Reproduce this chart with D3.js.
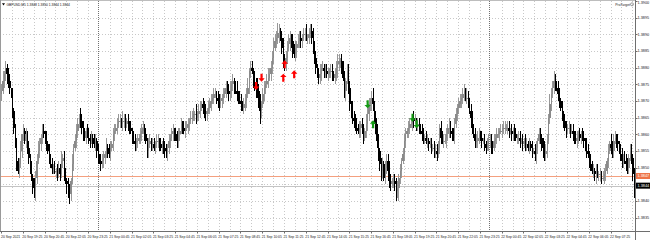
<!DOCTYPE html>
<html>
<head>
<meta charset="utf-8">
<script src="https://cdn.jsdelivr.net/npm/d3@7"></script>
<style>
  body { margin: 0; background: #fff; }
  text { font-family: "Liberation Sans", Arial, sans-serif; }
</style>
</head>
<body>
<div id="grafico"></div>
<script>
// Fechamentos M5 em pips acima de 1.3800
const precoBase = 1.38;
const aberturaInicial = 72;
const fechamentos = [
  73, 76, 78, 80, 78, 76, 74, 72, 67, 62,
  57, 52, 49, 51, 55, 60, 61, 58, 60, 56,
  53, 50, 47, 44, 43, 47, 52, 55, 57, 59,
  61, 60, 59, 57, 55, 53, 51, 50, 50, 49,
  49, 48, 50, 48, 52, 53, 48, 46, 45, 43,
  42, 46, 51, 56, 58, 61, 63, 65, 64, 62,
  60, 59, 61, 60, 59, 58, 59, 58, 57, 58,
  55, 53, 52, 51, 52, 53, 54, 56, 55, 54,
  56, 57, 60, 61, 62, 63, 64, 64, 63, 64,
  64, 63, 64, 63, 62, 61, 59, 58, 57, 58,
  58, 59, 60, 61, 62, 60, 58, 55, 57, 58,
  57, 57, 56, 57, 58, 58, 57, 56, 57, 56,
  55, 54, 56, 58, 59, 60, 61, 60, 59, 58,
  60, 61, 63, 62, 61, 62, 62, 63, 64, 65,
  65, 66, 66, 65, 66, 67, 68, 69, 68, 67,
  66, 67, 68, 69, 70, 71, 72, 72, 71, 70,
  69, 70, 71, 72, 73, 74, 73, 72, 73, 75,
  76, 74, 73, 72, 71, 70, 69, 68, 69, 70,
  72, 74, 79, 80, 79, 77, 75, 74, 73, 70,
  67, 69, 72, 74, 75, 76, 77, 78, 80, 83,
  86, 88, 89, 90.5, 91, 89, 86, 83, 81, 83,
  86, 87, 89, 88, 85, 84, 86, 87, 88, 89,
  88, 89, 90, 90, 89, 89, 90, 91, 89, 86,
  83, 80, 78, 77, 78, 80, 80, 79, 79, 78,
  78, 79, 79, 78, 77, 78, 80, 81, 82, 82,
  80, 77, 73, 76, 79, 74, 69, 67, 65, 64,
  63, 62, 61, 62, 63, 61, 59, 61, 63, 66,
  69, 70, 71, 69, 65, 61, 58, 55, 51, 49,
  51, 47, 50, 52, 49, 46, 45, 46, 46, 45,
  43, 44, 47, 49, 52, 54, 58, 60, 61, 62,
  63, 63, 65, 64, 64, 63, 63, 62, 61, 60,
  59, 59, 58, 58, 57, 57, 56, 56, 55, 55,
  54, 56, 62, 59, 58, 58, 59, 60, 62, 62,
  61, 60, 59, 63, 66, 68, 69, 70, 71, 72,
  73, 71, 71, 70, 67, 65, 62, 60, 58, 58,
  59, 60, 59, 58, 58, 57, 56, 57, 58, 58,
  57, 56, 58, 59, 60, 60, 61, 61, 62, 62,
  62, 62, 62, 61, 61, 60, 61, 60, 59, 59,
  59, 58, 58, 57, 58, 57, 57, 56, 57, 56,
  55, 55, 54, 56, 58, 60, 59, 57, 56, 54,
  55, 58, 65, 69, 72, 74, 76, 75, 74, 72,
  70, 68, 66, 64, 62, 61, 62, 62, 61, 61,
  60, 59, 58, 59, 60, 59, 60, 59, 58, 57,
  55, 54, 52, 51, 49, 49, 48, 49, 48, 48,
  48, 47, 47, 48, 49, 52, 55, 57, 56, 55,
  58, 59, 58, 57, 55, 54, 52, 53, 52, 51,
  50, 53, 55, 53, 48, 44
];

// Pavios (pips) acima e abaixo do corpo de cada candle
const pavioSuperior = (
  "2312122021 1212302121 2121322321 2212121212 1221312212 2131222132 2212212122 1212221312 " +
  "2122122213 2212121221 2122212122 1221221212 2212122122 2121222212 2213122122 2122212212 " +
  "2212122231 2123122122 2312212232 2122123222 3223212312 2321222122 2122312223 2212312122 " +
  "2122122321 2221222132 2212122132 2123122212 2122232122 2212122212 2212212212 2122122122 " +
  "2212221213 2122212212 2132122122 2212121222 2121221212 2122121221 2212122121 2122122122 " +
  "2213223212 2121221212 2122121221 2212121221 2122212132 2212122122 212212"
).replace(/ /g, "").split("").map(Number);

const pavioInferior = (
  "2122322122 1312122122 2212232122 2122121221 2212122132 3212122122 2121221212 2212122121 " +
  "2122121212 2212212122 2122121221 2212122122 2122212212 2212121221 2122122122 2212212122 " +
  "2122121222 2212212122 2122132322 4212212122 2122312322 2122212312 2212122122 2212221221 " +
  "2122122322 2123122222 2212312122 2232212323 2122322122 3242212212 2122122212 2212212122 " +
  "2122121323 2212122122 2122132122 2212122122 3212212122 2122122212 2212122121 2123212232 " +
  "2212212212 2122121221 2212212122 2122122312 2212212122 2122122212 221223"
).replace(/ /g, "").split("").map(Number);

// Rótulos do eixo de tempo (um a cada 16 barras)
const rotulosTempo = [
  "20 Sep 2021", "20 Sep 19:25", "20 Sep 20:45", "20 Sep 22:05", "20 Sep 23:25",
  "21 Sep 00:45", "21 Sep 02:05", "21 Sep 03:25", "21 Sep 04:45", "21 Sep 06:05",
  "21 Sep 07:25", "21 Sep 08:45", "21 Sep 10:05", "21 Sep 11:25", "21 Sep 12:45",
  "21 Sep 14:05", "21 Sep 15:25", "21 Sep 16:45", "21 Sep 18:05", "21 Sep 19:25",
  "21 Sep 20:45", "21 Sep 22:05", "21 Sep 23:25", "22 Sep 00:45", "22 Sep 02:05",
  "22 Sep 03:25", "22 Sep 04:45", "22 Sep 06:05", "22 Sep 07:25"
];

// Rótulos do eixo de preço
const rotulosPreco = [1.3900, 1.3895, 1.3890, 1.3885, 1.3880, 1.3875, 1.3870,
  1.3865, 1.3860, 1.3855, 1.3850, 1.3845, 1.3840, 1.3835];

// Barras onde começa um novo dia (separadores)
const separadoresDia = [71, 359];

// Setas de sinal: barra, preço (pips) e direção
const setasVermelhas = [
  { barra: 187, preco: 74.5, dir: "baixo" },
  { barra: 191, preco: 77, dir: "baixo" },
  { barra: 207, preco: 77, dir: "cima" },
  { barra: 208, preco: 81, dir: "cima" },
  { barra: 215, preco: 78, dir: "cima" }
];
const setasVerdes = [
  { barra: 269, preco: 69, dir: "baixo" },
  { barra: 273, preco: 63, dir: "cima" },
  { barra: 302, preco: 65, dir: "baixo" },
  { barra: 305, preco: 63, dir: "baixo" }
];

const linhaLaranja = 1.38475;
const precoBid = 1.3844;
const titulo = "GBPUSD,M5  1.3848 1.3850 1.3844 1.3844";

function criarGrafico() {
    const largura = 650;
    const altura = 240;
    const eixoX = 635.5;   // linha do eixo de preço
    const base = 231.5;    // linha do eixo de tempo

    const svg = d3.select("#grafico")
        .append("svg")
        .attr("width", largura)
        .attr("height", altura)
        .style("display", "block");

    // Monta os candles a partir dos fechamentos
    const candles = fechamentos.map((c, i) => {
        const o = i === 0 ? aberturaInicial : fechamentos[i - 1];
        const h = Math.max(o, c) + (pavioSuperior[i] || 0);
        const l = Math.min(o, c) - (pavioInferior[i] || 0);
        return {
            i: i,
            o: precoBase + o / 10000,
            c: precoBase + c / 10000,
            h: precoBase + h / 10000,
            l: precoBase + l / 10000,
            alta: c >= o
        };
    });

    const x = d3.scaleBand()
        .domain(d3.range(candles.length))
        .range([1, 635]);

    const y = d3.scaleLinear()
        .domain([1.3830, 1.3900])
        .range([234.33, 1]);

    const meio = i => x(i) + x.bandwidth() / 2;

    // Grade horizontal pontilhada
    svg.selectAll(".gradeH")
        .data(rotulosPreco.filter(p => y(p) > 2 && y(p) < base))
        .enter()
        .append("line")
        .attr("x1", 0).attr("x2", eixoX)
        .attr("y1", d => Math.round(y(d)) + 0.5)
        .attr("y2", d => Math.round(y(d)) + 0.5)
        .attr("stroke", "#c8c8c8")
        .attr("stroke-dasharray", "1,2");

    // Grade vertical (a cada 8 barras)
    const barrasGrade = d3.range(8, candles.length, 8)
        .filter(b => !separadoresDia.some(s => Math.abs(s - b) < 3));
    svg.selectAll(".gradeV")
        .data(barrasGrade)
        .enter()
        .append("line")
        .attr("x1", d => Math.round(x(d)) + 0.5)
        .attr("x2", d => Math.round(x(d)) + 0.5)
        .attr("y1", 1).attr("y2", base)
        .attr("stroke", "#c8c8c8")
        .attr("stroke-dasharray", "1,2");

    // Separadores de dia
    svg.selectAll(".sep")
        .data(separadoresDia)
        .enter()
        .append("line")
        .attr("x1", d => Math.round(x(d)) + 0.5)
        .attr("x2", d => Math.round(x(d)) + 0.5)
        .attr("y1", 1).attr("y2", base)
        .attr("stroke", "#707070")
        .attr("stroke-dasharray", "1,1");

    // Linha laranja e linha do bid
    svg.append("line")
        .attr("x1", 0).attr("x2", eixoX)
        .attr("y1", Math.round(y(linhaLaranja)) + 0.5)
        .attr("y2", Math.round(y(linhaLaranja)) + 0.5)
        .attr("stroke", "#f4a07f");
    svg.append("line")
        .attr("x1", 0).attr("x2", eixoX)
        .attr("y1", Math.round(y(precoBid)) - 1.5)
        .attr("y2", Math.round(y(precoBid)) - 1.5)
        .attr("stroke", "#c4c4c4");

    // Candles
    const g = svg.append("g").attr("shape-rendering", "crispEdges");
    g.selectAll(".pavio")
        .data(candles)
        .enter()
        .append("line")
        .attr("x1", d => meio(d.i))
        .attr("x2", d => meio(d.i))
        .attr("y1", d => y(d.h))
        .attr("y2", d => y(d.l))
        .attr("stroke", d => d.alta ? "#999" : "#000");
    g.selectAll(".corpo")
        .data(candles)
        .enter()
        .append("rect")
        .attr("x", d => meio(d.i) - 0.7)
        .attr("width", 1.4)
        .attr("y", d => y(Math.max(d.o, d.c)))
        .attr("height", d => Math.max(1, Math.abs(y(d.o) - y(d.c))))
        .attr("fill", d => d.alta ? "#8a8a8a" : "#000");

    // Setas de sinal
    function seta(d) {
        const cx = meio(d.barra);
        const cy = y(precoBase + d.preco / 10000);
        const s = d.dir === "cima" ? 1 : -1;
        return `M${cx},${cy - 4 * s} L${cx + 3.2},${cy - 0.6 * s} L${cx + 1.1},${cy - 0.6 * s} ` +
            `L${cx + 1.1},${cy + 4 * s} L${cx - 1.1},${cy + 4 * s} L${cx - 1.1},${cy - 0.6 * s} ` +
            `L${cx - 3.2},${cy - 0.6 * s} Z`;
    }
    svg.selectAll(".setaV")
        .data(setasVermelhas)
        .enter()
        .append("path")
        .attr("d", seta)
        .attr("fill", "#ff0000");
    svg.selectAll(".setaG")
        .data(setasVerdes)
        .enter()
        .append("path")
        .attr("d", seta)
        .attr("fill", "#139a13");

    // Moldura e eixos
    svg.append("line")
        .attr("x1", 0).attr("x2", eixoX).attr("y1", 0.5).attr("y2", 0.5)
        .attr("stroke", "#bdbdbd");
    svg.append("line")
        .attr("x1", 0.5).attr("x2", 0.5).attr("y1", 0).attr("y2", base)
        .attr("stroke", "#9a9a9a");
    svg.append("line")
        .attr("x1", eixoX).attr("x2", eixoX).attr("y1", 0).attr("y2", altura)
        .attr("stroke", "#6e6e6e");
    svg.append("line")
        .attr("x1", 0).attr("x2", largura).attr("y1", base).attr("y2", base)
        .attr("stroke", "#6e6e6e");

    // Rótulos de preço
    const ocultos = [y(linhaLaranja), y(precoBid)];
    const visiveis = rotulosPreco.filter(p => y(p) < base - 2 &&
        !ocultos.some(o => Math.abs(o - y(p)) < 5));
    svg.selectAll(".tickP")
        .data(visiveis)
        .enter()
        .append("line")
        .attr("x1", eixoX).attr("x2", eixoX + 2)
        .attr("y1", d => Math.round(y(d)) + 0.5)
        .attr("y2", d => Math.round(y(d)) + 0.5)
        .attr("stroke", "#6e6e6e");
    svg.selectAll(".rotuloP")
        .data(visiveis)
        .enter()
        .append("text")
        .attr("x", 637.5)
        .attr("y", d => Math.max(y(d), 2.5))
        .attr("dy", "0.35em")
        .attr("font-size", "3.8px")
        .attr("fill", "#222")
        .text(d => d.toFixed(4));

    // Caixas de preço (linha laranja e bid)
    const caixas = [
        { p: linhaLaranja, cor: "#ee7448", txt: linhaLaranja.toFixed(4) },
        { p: precoBid, cor: "#000", txt: precoBid.toFixed(4) }
    ];
    svg.selectAll(".caixa")
        .data(caixas)
        .enter()
        .append("rect")
        .attr("x", eixoX + 0.5)
        .attr("y", (d, i) => y(d.p) - 3 - i * 2)
        .attr("width", 14)
        .attr("height", 6)
        .attr("fill", d => d.cor);
    svg.selectAll(".caixaTxt")
        .data(caixas)
        .enter()
        .append("text")
        .attr("x", 637.5)
        .attr("y", (d, i) => y(d.p) - i * 2)
        .attr("dy", "0.35em")
        .attr("font-size", "3.8px")
        .attr("fill", "#fff")
        .text(d => d.txt);

    // Rótulos de tempo
    svg.selectAll(".tickT")
        .data(rotulosTempo)
        .enter()
        .append("line")
        .attr("x1", (d, i) => Math.round(x(i * 16)) + 0.5)
        .attr("x2", (d, i) => Math.round(x(i * 16)) + 0.5)
        .attr("y1", base).attr("y2", base + 2)
        .attr("stroke", "#6e6e6e");
    svg.selectAll(".rotuloT")
        .data(rotulosTempo)
        .enter()
        .append("text")
        .attr("x", (d, i) => i === 0 ? 1 : x(i * 16) - 0.5)
        .attr("y", 237.5)
        .attr("font-size", "3.4px")
        .attr("fill", "#222")
        .text(d => d);

    // Título e etiqueta do indicador
    svg.append("path")
        .attr("d", "M2,3.2 L5,3.2 L3.5,5.4 Z")
        .attr("fill", "#000");
    svg.append("text")
        .attr("x", 6.5).attr("y", 5.5)
        .attr("font-size", "3.3px")
        .attr("fill", "#111")
        .text(titulo);
    svg.append("text")
        .attr("x", 630).attr("y", 5.5)
        .attr("text-anchor", "end")
        .attr("font-size", "3.4px")
        .attr("fill", "#222")
        .text("ProTarget");
    svg.append("circle")
        .attr("cx", 632).attr("cy", 4.3).attr("r", 1.5)
        .attr("fill", "none")
        .attr("stroke", "#444")
        .attr("stroke-width", 0.5);
}

criarGrafico();
</script>
</body>
</html>
